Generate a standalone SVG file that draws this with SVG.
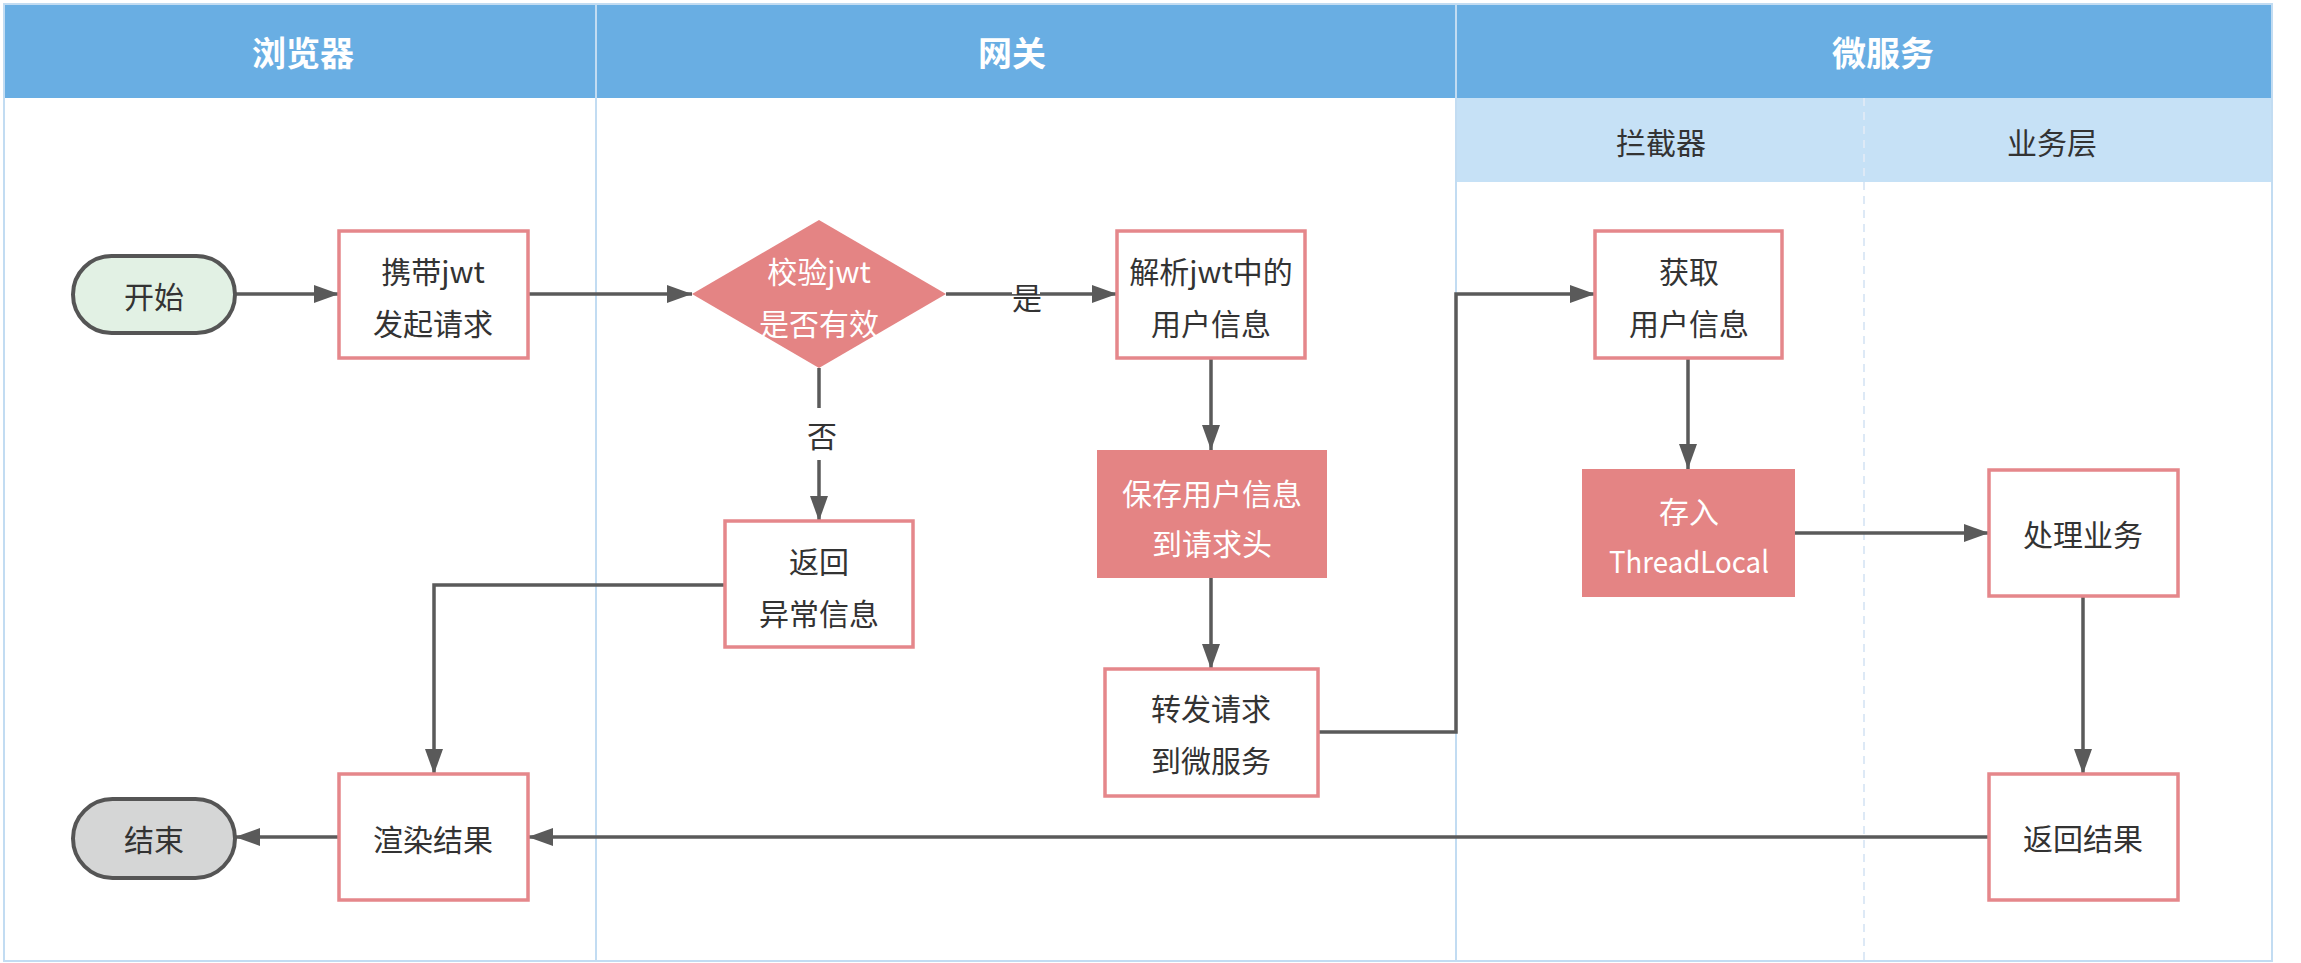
<svg xmlns="http://www.w3.org/2000/svg" width="2301" height="963" viewBox="0 0 2301 963">
<defs>
<style>
.sep{stroke:#c2dcf2;stroke-width:2;fill:none}
.dash{stroke:#dde9f6;stroke-width:2;stroke-dasharray:8 6;fill:none}
.box{fill:#fff;stroke:#e5878b;stroke-width:3.5}
.fill{fill:#e48484}
.pill{stroke:#555;stroke-width:4}
.t{font-family:"Noto Sans CJK SC","Noto Sans",sans-serif;font-size:30px;fill:#333;text-anchor:middle;dominant-baseline:central}
.tw{fill:#fff}
.hd{font-size:34px;font-weight:bold;fill:#fff}
.conn{fill:none;stroke:#5a5a5a;stroke-width:3.5;marker-end:url(#arr)}
</style>
<marker id="arr" markerUnits="userSpaceOnUse" markerWidth="26" markerHeight="18" refX="25" refY="9" orient="auto">
<path d="M0,0 L25,9 L0,18 z" fill="#5a5a5a"/>
</marker>
</defs>
<rect x="0" y="0" width="2301" height="963" fill="#fff"/>
<g id="lanes">
<rect x="4" y="4" width="2268" height="94" fill="#69aee3"/>
<rect x="1456" y="98" width="816" height="84" fill="#c6e1f6"/>
<rect x="4" y="4" width="2268" height="957" class="sep"/>
<line x1="596" y1="4" x2="596" y2="961" class="sep"/>
<line x1="1456" y1="4" x2="1456" y2="961" class="sep"/>
<line x1="1864" y1="98" x2="1864" y2="961" class="dash"/>
<text class="t hd" x="303" y="51">浏览器</text>
<text class="t hd" x="1012" y="51">网关</text>
<text class="t hd" x="1883" y="51">微服务</text>
<text class="t" x="1661" y="141">拦截器</text>
<text class="t" x="2052" y="141">业务层</text>
</g>
<g id="connectors">
<path class="conn" d="M235,294 H339"/>
<path class="conn" d="M528,294 H692"/>
<path class="conn" d="M946,294 H1117"/>
<path class="conn" d="M819,368 V521"/>
<path class="conn" d="M725,585 H434 V774"/>
<path class="conn" d="M1211,358 V450"/>
<path class="conn" d="M1211,578 V669"/>
<path class="conn" d="M1318,732 H1456 V294 H1595"/>
<path class="conn" d="M1688,358 V469"/>
<path class="conn" d="M1795,533 H1989"/>
<path class="conn" d="M2083,596 V774"/>
<path class="conn" d="M1989,837 H528"/>
<path class="conn" d="M339,837 H235"/>
<rect x="1012" y="280" width="28" height="14" fill="#fff"/>
<text class="t" x="1027" y="296">是</text>
<rect x="806" y="408" width="28" height="52" fill="#fff"/>
<text class="t" x="822" y="434">否</text>
</g>
<g id="start">
<rect x="73" y="256" width="162" height="77" rx="38.5" fill="#e2f1e4" class="pill"/>
<text class="t" x="154" y="295">开始</text>
</g>
<g id="send">
<rect x="339" y="231" width="189" height="127" class="box"/>
<text class="t" x="433" y="270">携带jwt</text>
<text class="t" x="433" y="322">发起请求</text>
</g>
<g id="check">
<path d="M692,294 L819,220 L946,294 L819,368 z" class="fill"/>
<text class="t tw" x="819" y="270">校验jwt</text>
<text class="t tw" x="819" y="322">是否有效</text>
</g>
<g id="parse">
<rect x="1117" y="231" width="188" height="127" class="box"/>
<text class="t" x="1211" y="270">解析jwt中的</text>
<text class="t" x="1211" y="322">用户信息</text>
</g>
<g id="error">
<rect x="725" y="521" width="188" height="126" class="box"/>
<text class="t" x="819" y="560">返回</text>
<text class="t" x="819" y="612">异常信息</text>
</g>
<g id="save">
<rect x="1097" y="450" width="230" height="128" class="fill"/>
<text class="t tw" x="1212" y="492">保存用户信息</text>
<text class="t tw" x="1212" y="542">到请求头</text>
</g>
<g id="forward">
<rect x="1105" y="669" width="213" height="127" class="box"/>
<text class="t" x="1211" y="707">转发请求</text>
<text class="t" x="1211" y="759">到微服务</text>
</g>
<g id="fetch">
<rect x="1595" y="231" width="187" height="127" class="box"/>
<text class="t" x="1689" y="270">获取</text>
<text class="t" x="1689" y="322">用户信息</text>
</g>
<g id="store">
<rect x="1582" y="469" width="213" height="128" class="fill"/>
<text class="t tw" x="1689" y="510">存入</text>
<text class="t tw" x="1689" y="560" textLength="160" lengthAdjust="spacingAndGlyphs">ThreadLocal</text>
</g>
<g id="process">
<rect x="1989" y="470" width="189" height="126" class="box"/>
<text class="t" x="2083" y="533">处理业务</text>
</g>
<g id="result">
<rect x="1989" y="774" width="189" height="126" class="box"/>
<text class="t" x="2083" y="837">返回结果</text>
</g>
<g id="render">
<rect x="339" y="774" width="189" height="126" class="box"/>
<text class="t" x="433" y="838">渲染结果</text>
</g>
<g id="end">
<rect x="73" y="799" width="162" height="79" rx="39.5" fill="#d5d6d6" class="pill"/>
<text class="t" x="154" y="838">结束</text>
</g>
</svg>
